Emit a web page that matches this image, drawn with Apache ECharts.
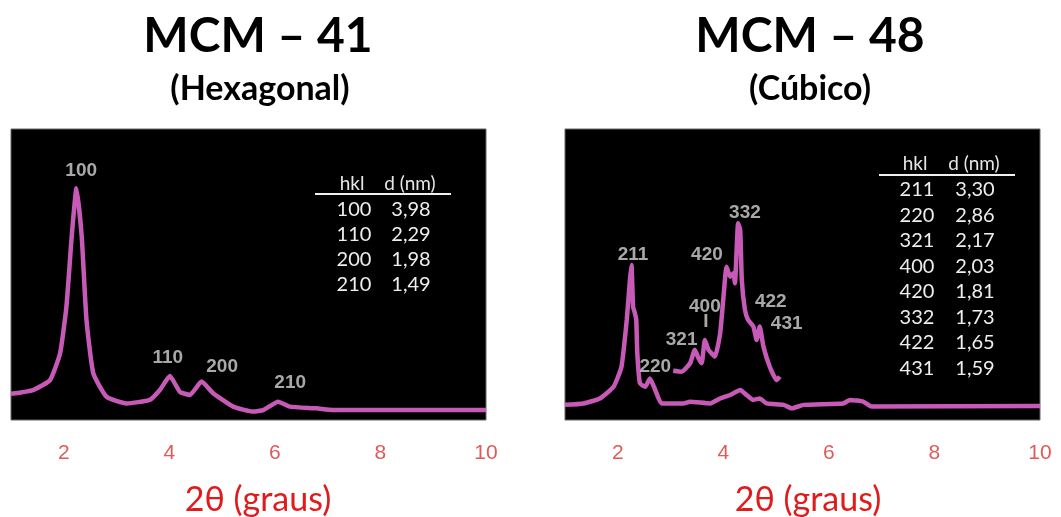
<!DOCTYPE html>
<html>
<head>
<meta charset="utf-8">
<script src="https://cdn.jsdelivr.net/npm/echarts@6/dist/echarts.min.js"></script>
<style>html,body{margin:0;padding:0;background:#fff}#c{width:1061px;height:517px}</style>
</head>
<body>
<div id="c"></div>
<script>
// ---- data ----
const titles = ['MCM – 41', 'MCM – 48'];
const subtitles = ['(Hexagonal)', '(Cúbico)'];
const axisTitle = '2θ (graus)';
const xTickLabels = [2, 4, 6, 8, 10];

// MCM-41 pattern [2θ, intensity]
const mcm41 = [
  [1.0, 9.0], [1.42, 10.3], [1.74, 13.7], [1.93, 22.9], [2.05, 38.9], [2.15, 63.0],
  [2.24, 79.6], [2.34, 63.0], [2.43, 34.4], [2.56, 16.0], [2.81, 8.0], [3.19, 5.7],
  [3.63, 6.9], [3.82, 10.3], [4.01, 15.1], [4.20, 9.7], [4.39, 8.6], [4.61, 13.2],
  [4.83, 9.2], [5.21, 4.6], [5.59, 2.9], [5.78, 3.4], [6.06, 6.3], [6.28, 4.6],
  [6.79, 4.0], [7.10, 3.4], [10.0, 3.4]
];
// MCM-48 pattern (full range)
const mcm48 = [
  [1.0, 5.2], [1.35, 5.7], [1.66, 7.4], [1.92, 11.4], [2.07, 18.3], [2.17, 34.4],
  [2.23, 48.1], [2.26, 53.3], [2.29, 38.9], [2.32, 37.0], [2.35, 34.4], [2.37, 22.9], [2.42, 12.6],
  [2.52, 11.4], [2.61, 14.3], [2.71, 10.3], [2.83, 5.7], [3.24, 5.7], [3.37, 6.3],
  [3.75, 5.7], [3.94, 7.4], [4.13, 8.6], [4.32, 10.3], [4.44, 8.6], [4.57, 6.9],
  [4.69, 7.4], [4.82, 5.7], [5.14, 5.2], [5.30, 4.0], [5.52, 5.2], [6.27, 5.7],
  [6.40, 6.9], [6.65, 6.3], [6.81, 4.6], [10.0, 4.8]
];
// MCM-48 magnified region
const mcm48Zoom = [
  [3.05, 16.9], [3.21, 16.6], [3.37, 19.5], [3.46, 24.1], [3.53, 21.2], [3.59, 19.5],
  [3.65, 27.5], [3.72, 24.1], [3.84, 21.8], [3.94, 29.8], [4.03, 48.1], [4.06, 52.7],
  [4.13, 49.2], [4.19, 50.4], [4.22, 47.0], [4.28, 67.6], [4.32, 65.3], [4.35, 48.1],
  [4.41, 37.8], [4.47, 34.4], [4.57, 32.1], [4.63, 27.5], [4.69, 32.1], [4.76, 25.2],
  [4.88, 18.3], [5.01, 13.7], [5.07, 14.9]
];
// peak annotations [2θ, intensity, label]
const peaks41 = [[2.33, 85.5, '100'], [3.97, 21.3, '110'], [5.0, 18.2, '200'], [6.29, 12.7, '210']];
const peaks48 = [
  [2.29, 56.7, '211'], [2.71, 18.2, '220'], [3.21, 27.5, '321'], [3.65, 38.9, '400'],
  [3.67, 33.8, 'I'], [3.69, 56.7, '420'], [4.41, 71.1, '332'], [4.90, 40.6, '422'], [5.20, 33.2, '431']
];
// tables
const hkl41 = ['100', '110', '200', '210'];
const d41 = ['3,98', '2,29', '1,98', '1,49'];
const hkl48 = ['211', '220', '321', '400', '420', '332', '422', '431'];
const d48 = ['3,30', '2,86', '2,17', '2,03', '1,81', '1,73', '1,65', '1,59'];

// ---- chart ----
const chart = echarts.init(document.getElementById('c'), null, {renderer: 'canvas'});
const lineColor = '#c65ab6';
const calibri = 'Lato, "Open Sans", sans-serif';

const grids = [
  {left: 11, top: 129, width: 475, height: 291},
  {left: 565, top: 129, width: 475, height: 291}
].map(g => Object.assign(g, {show: true, backgroundColor: '#000', borderColor: '#666', borderWidth: 1}));

const xAxes = [0, 1].map(i => ({
  type: 'value', gridIndex: i, min: 1, max: 10, interval: 1,
  axisLine: {show: false}, axisTick: {show: false}, splitLine: {show: false},
  axisLabel: {
    margin: 23, color: '#e05a5a', fontSize: 21, fontFamily: 'Liberation Sans, Arial',
    formatter: v => xTickLabels.indexOf(v) >= 0 ? String(v) : ''
  }
}));
const yAxes = [0, 1].map(i => ({type: 'value', gridIndex: i, min: 0, max: 100, show: false}));

function lineSeries(data, idx) {
  return {type: 'line', xAxisIndex: idx, yAxisIndex: idx, data: data, showSymbol: false, symbol: 'none',
    smooth: 0.15, lineStyle: {color: lineColor, width: 4.5}, z: 3, silent: true};
}
function labelSeries(data, idx) {
  return {type: 'scatter', xAxisIndex: idx, yAxisIndex: idx, data: data, symbolSize: 0, z: 5, silent: true,
    label: {show: true, position: [0, 0], align: 'center', verticalAlign: 'middle',
      formatter: p => p.data[2], color: '#d2d2d2', fontSize: 19, fontWeight: 'bold',
      fontFamily: 'Liberation Sans, Arial'}};
}

const graphics = [];
function addText(text, x, y, size, weight, color, align) {
  graphics.push({type: 'text', x: x, y: y, silent: true,
    style: {text: text, fontSize: size, fontWeight: weight, fontFamily: calibri, fill: color,
      align: align || 'center', verticalAlign: 'middle'}});
}
addText(titles[0], 258, 37, 48, 'bold', '#000');
addText(titles[1], 810, 37, 48, 'bold', '#000');
addText(subtitles[0], 260, 89, 34, 'bold', '#000');
addText(subtitles[1], 810, 89, 34, 'bold', '#000');
addText(axisTitle, 258, 500, 34, 'normal', '#e01b1b');
addText(axisTitle, 808, 500, 34, 'normal', '#e01b1b');

function addTable(hkl, d, cxH, cxD, yHead, yLine, lineX1, lineX2, y0, step) {
  addText('hkl', cxH - 2, yHead, 19, 'normal', '#e6e6e6');
  addText('d (nm)', cxD - 1, yHead, 19, 'normal', '#e6e6e6');
  graphics.push({type: 'line', silent: true, shape: {x1: lineX1, y1: yLine, x2: lineX2, y2: yLine},
    style: {stroke: '#f0f0f0', lineWidth: 2}});
  hkl.forEach((h, i) => {
    addText(h, cxH, y0 + i * step, 20, 'normal', '#eeeeee');
    addText(d[i], cxD, y0 + i * step, 20, 'normal', '#eeeeee');
  });
}
addTable(hkl41, d41, 354, 411, 184, 194, 315, 451, 210, 25);
addTable(hkl48, d48, 917, 975, 164, 175, 879, 1015, 190, 25.5);

chart.setOption({
  backgroundColor: '#fff',
  animation: false,
  grid: grids,
  xAxis: xAxes,
  yAxis: yAxes,
  series: [
    lineSeries(mcm41, 0), labelSeries(peaks41, 0),
    lineSeries(mcm48, 1), lineSeries(mcm48Zoom, 1), labelSeries(peaks48, 1)
  ],
  graphic: graphics
});
</script>
</body>
</html>
